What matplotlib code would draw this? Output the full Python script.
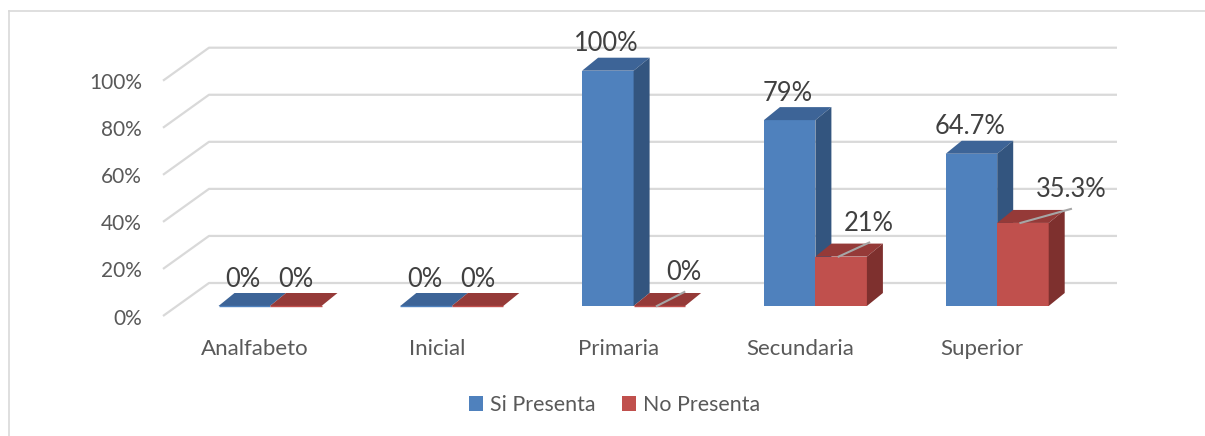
import matplotlib
matplotlib.use('Agg')
import matplotlib.pyplot as plt
from matplotlib.patches import Polygon, Patch
from matplotlib.lines import Line2D

# ---------------- data ----------------
categories = ['Analfabeto', 'Inicial', 'Primaria', 'Secundaria', 'Superior']
series_names = ['Si Presenta', 'No Presenta']
si_presenta = [0, 0, 100, 79, 64.7]
no_presenta = [0, 0, 0, 21, 35.3]
si_labels = ['0%', '0%', '100%', '79%', '64.7%']
no_labels = ['0%', '0%', '0%', '21%', '35.3%']
y_ticks = [0, 20, 40, 60, 80, 100]
y_tick_labels = ['0%', '20%', '40%', '60%', '80%', '100%']

# ---------------- style ----------------
W, H, DPI = 1205, 436, 100
plt.rcParams['font.family'] = ['Lato', 'DejaVu Sans']
FACE = {  # front, top, side
    'si': ('#4F81BD', '#3D6497', '#33557F'),
    'no': ('#C0504D', '#953A38', '#7E302E'),
}
GRID_C = '#D9D9D9'
AXIS_TXT = '#595959'
LBL_TXT = '#404040'
LEADER_C = '#A6A6A6'
DEPTH_PX = (16, 13)          # 3-D depth of bars, pixels
BAR_W_PX = 51.5
FS_TICK, FS_CAT, FS_DATA, FS_LEG = 15.0, 16.0, 18.4, 15.4
# manual data-label shifts for the red series (pixels), as in the original
red_label_dx = [0, 0, 25, 28, 48]
red_label_dy = [19.5, 19.5, 26, 26, 26]
red_leader = [False, False, True, True, True]

fig = plt.figure(figsize=(W / DPI, H / DPI), dpi=DPI)
ax = fig.add_axes([179.1 / W, 130 / H, 909 / W, 235.3 / H])
ax.set_xlim(-0.5, len(categories) - 0.5)
ax.set_ylim(0, 100)
ax.axis('off')

p = ax.transData.transform([(0, 0), (1, 1)])
sx = p[1, 0] - p[0, 0]   # px per x unit
sy = p[1, 1] - p[0, 1]   # px per y unit


def off(dx_px, dy_px):
    return dx_px / sx, dy_px / sy


bw = BAR_W_PX / sx
ddx, ddy = off(*DEPTH_PX)

# ---------------- back wall / floor gridlines ----------------
inv = ax.transData.inverted()
for v in y_ticks:
    yd = ax.transData.transform((0, v))[1]
    pts_disp = [(163, yd - 10), (209, yd + 23), (1117, yd + 23)]
    pts = inv.transform(pts_disp)
    ax.plot(pts[:, 0], pts[:, 1], color=GRID_C, lw=1.6, clip_on=False,
            zorder=1, solid_capstyle='butt')

# ---------------- 3-D bars ----------------
def draw_series(values, key, k):
    front, top, side = FACE[key]
    x0s = [i - bw + k * bw for i in range(len(values))]
    bars = ax.bar(x0s, values, width=bw, align='edge', color=front,
                  linewidth=0, clip_on=False)
    for i, (b, x0, v) in enumerate(zip(bars, x0s, values)):
        z = 3 + 2 * i + k
        b.set_zorder(z)
        x1 = x0 + bw
        ax.add_patch(Polygon([(x0, v), (x1, v), (x1 + ddx, v + ddy),
                              (x0 + ddx, v + ddy)], closed=True,
                             facecolor=top, edgecolor='none', zorder=z,
                             clip_on=False))
        if v > 0:
            ax.add_patch(Polygon([(x1, 0), (x1, v), (x1 + ddx, v + ddy),
                                  (x1 + ddx, ddy)], closed=True,
                                 facecolor=side, edgecolor='none', zorder=z,
                                 clip_on=False))
        else:
            ax.plot([x0, x1], [0, 0], color=front, lw=1.0, zorder=z,
                    clip_on=False, solid_capstyle='butt')


draw_series(si_presenta, 'si', 0)
draw_series(no_presenta, 'no', 1)

# ---------------- data labels ----------------
for i, (v, t) in enumerate(zip(si_presenta, si_labels)):
    ax.annotate(t, xy=(i - bw / 2, v), xytext=(-1.5, 19.5),
                textcoords='offset pixels', ha='center', va='baseline',
                fontsize=FS_DATA, color=LBL_TXT, zorder=30,
                annotation_clip=False)
for i, (v, t) in enumerate(zip(no_presenta, no_labels)):
    cx = i + bw / 2
    ax.annotate(t, xy=(cx, v), xytext=(red_label_dx[i], red_label_dy[i]),
                textcoords='offset pixels', ha='center', va='baseline',
                fontsize=FS_DATA, color=LBL_TXT, zorder=30,
                annotation_clip=False)
    if red_leader[i]:
        ax.plot([cx + off(-2.5, 0)[0], cx + off(red_label_dx[i], 0)[0]],
                [v, v + off(0, 14)[1]], color=LEADER_C, lw=1.5, zorder=25,
                clip_on=False)

# ---------------- axis labels ----------------
for v, t in zip(y_ticks, y_tick_labels):
    ax.annotate(t, xy=(142, v), xycoords=('figure pixels', 'data'),
                xytext=(0, -18.5), textcoords='offset pixels', ha='right',
                va='baseline', fontsize=FS_TICK, color=AXIS_TXT,
                annotation_clip=False)
for i, c in enumerate(categories):
    ax.annotate(c, xy=(i, 0), xytext=(-15, -49), textcoords='offset pixels',
                ha='center', va='baseline', fontsize=FS_CAT, color=AXIS_TXT,
                annotation_clip=False)

# ---------------- legend ----------------
handles = [Patch(facecolor=FACE['si'][0]), Patch(facecolor=FACE['no'][0])]
fig.legend(handles, series_names, loc='center',
           bbox_to_anchor=(614.5 / W, 1 - 405 / H), ncol=2, frameon=False,
           fontsize=FS_LEG, labelcolor=AXIS_TXT, handlelength=0.66,
           handleheight=0.66, handletextpad=0.3, columnspacing=1.25,
           borderpad=0, borderaxespad=0)

# ---------------- chart border ----------------
fig.add_artist(Line2D([8.5 / W, 1], [1 - 11 / H, 1 - 11 / H],
                      transform=fig.transFigure, color=GRID_C, lw=1.2))
fig.add_artist(Line2D([8.5 / W, 8.5 / W], [0, 1 - 11 / H],
                      transform=fig.transFigure, color=GRID_C, lw=1.2))

fig.savefig('out.png', dpi=DPI, facecolor='white')
